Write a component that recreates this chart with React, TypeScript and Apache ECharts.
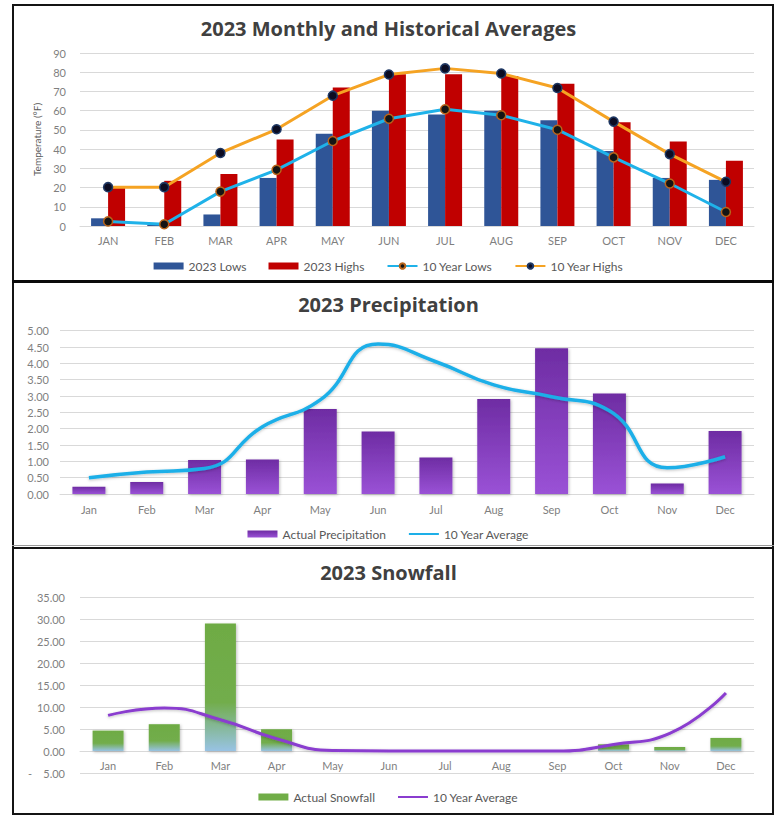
import React, { useEffect, useRef } from 'react';
import * as echarts from 'echarts';

const FONT = 'Lato, "Open Sans", "DejaVu Sans", sans-serif';
const TITLE_FONT = '"Open Sans", Lato, sans-serif';

// ---- Data ----
const tempMonths = ['JAN', 'FEB', 'MAR', 'APR', 'MAY', 'JUN', 'JUL', 'AUG', 'SEP', 'OCT', 'NOV', 'DEC'];
const lows2023 = [4, 0.6, 6, 25, 48, 60, 58, 60, 55, 39, 25, 24];
const highs2023 = [20, 23.5, 27, 45, 72, 79, 79, 78, 74, 54, 44, 34];
const lows10yr = [2.4, 0.9, 17.9, 29.2, 44.2, 55.8, 60.7, 57.6, 50.1, 35.7, 22.1, 7.3];
const highs10yr = [20.2, 20.2, 38, 50.3, 67.8, 78.8, 82, 79.3, 71.8, 54.3, 37.4, 23];

const months = ['Jan', 'Feb', 'Mar', 'Apr', 'May', 'Jun', 'Jul', 'Aug', 'Sep', 'Oct', 'Nov', 'Dec'];
const precipActual = [0.22, 0.37, 1.04, 1.06, 2.6, 1.91, 1.12, 2.91, 4.46, 3.08, 0.32, 1.93];
const precipAvg = [0.5, 0.67, 0.78, 2.06, 2.88, 4.59, 4.05, 3.34, 2.98, 2.55, 0.8, 1.14];

const snowActual = [4.64, 6.09, 29.0, 4.95, 0, 0, 0, 0, 0, 1.52, 0.91, 2.97];
const snowAvg = [8.1, 9.8, 7.1, 2.8, 0.1, 0, 0, 0, 0, 1.5, 4.0, 13.2];

const axisLabelStyle = { color: '#7f7f7f', fontSize: 11, fontFamily: FONT };
const legendText = { color: '#595959', fontSize: 12, fontFamily: FONT };
const titleStyle = { fontFamily: TITLE_FONT, fontSize: 20, fontWeight: 'bold' as const, color: '#404040' };
const gridLine = { lineStyle: { color: '#d9d9d9', width: 1 } };

function tempOption() {
  return {
    animation: false,
    title: { text: '2023 Monthly and Historical Averages', left: 'center', top: 18, padding: 0, textStyle: titleStyle },
    legend: {
      top: 255, left: 'center', itemWidth: 30, itemHeight: 7, itemGap: 22, textStyle: legendText,
      data: [{ name: '2023 Lows', icon: 'rect' }, { name: '2023 Highs', icon: 'rect' }, '10 Year Lows', '10 Year Highs'],
    },
    grid: { left: 80, top: 53, width: 674, height: 173 },
    xAxis: {
      type: 'category', data: tempMonths,
      axisLine: { lineStyle: { color: '#d9d9d9' } }, axisTick: { show: false },
      axisLabel: { ...axisLabelStyle, margin: 9 },
    },
    yAxis: {
      type: 'value', min: 0, max: 90, interval: 10,
      name: 'Temperature (°F)', nameLocation: 'middle', nameGap: 38,
      nameTextStyle: { fontSize: 10, color: '#595959', fontFamily: FONT },
      axisLabel: { ...axisLabelStyle, margin: 14 }, splitLine: gridLine,
    },
    series: [
      { name: '2023 Lows', type: 'bar', data: lows2023, barWidth: 17, barGap: '0%', itemStyle: { color: '#2F5597' } },
      { name: '2023 Highs', type: 'bar', data: highs2023, barWidth: 17, barGap: '0%', itemStyle: { color: '#C00000' } },
      {
        name: '10 Year Lows', type: 'line', data: lows10yr, symbol: 'circle', symbolSize: 9,
        lineStyle: { color: '#1FB2E9', width: 3 },
        itemStyle: { color: '#141414', borderColor: '#B8651B', borderWidth: 1.5 },
      },
      {
        name: '10 Year Highs', type: 'line', data: highs10yr, symbol: 'circle', symbolSize: 9,
        lineStyle: { color: '#F5A323', width: 3 },
        itemStyle: { color: '#0c0c22', borderColor: '#1F3864', borderWidth: 1.5 },
      },
    ],
  };
}

function precipOption() {
  return {
    animation: false,
    title: { text: '2023 Precipitation', left: 'center', top: 12, padding: 0, textStyle: titleStyle },
    legend: {
      top: 241, left: 'center', itemWidth: 30, itemHeight: 7, itemGap: 22, textStyle: legendText,
      data: [{ name: 'Actual Precipitation', icon: 'rect' }, { name: '10 Year Average', itemStyle: { opacity: 0 } }],
    },
    grid: { left: 60, top: 48.7, width: 694, height: 163.3 },
    xAxis: {
      type: 'category', data: months,
      axisLine: { lineStyle: { color: '#d9d9d9' } }, axisTick: { show: false },
      axisLabel: { ...axisLabelStyle, margin: 10 },
    },
    yAxis: {
      type: 'value', min: 0, max: 5, interval: 0.5,
      axisLabel: { ...axisLabelStyle, margin: 11, formatter: (v: number) => v.toFixed(2) },
      splitLine: gridLine,
    },
    series: [
      {
        name: 'Actual Precipitation', type: 'bar', data: precipActual, barWidth: 33,
        itemStyle: {
          color: new echarts.graphic.LinearGradient(0, 0, 0, 1, [
            { offset: 0, color: '#6E2CA3' },
            { offset: 1, color: '#9A52D6' },
          ]),
          shadowBlur: 3, shadowColor: 'rgba(0,0,0,0.25)', shadowOffsetX: 1, shadowOffsetY: 1,
        },
      },
      {
        name: '10 Year Average', type: 'line', data: precipAvg, smooth: 0.5, symbol: 'none',
        lineStyle: { color: '#1DAFE8', width: 3.5, shadowBlur: 3, shadowColor: 'rgba(0,0,0,0.25)', shadowOffsetY: 1 },
        itemStyle: { color: '#1DAFE8' },
      },
    ],
  };
}

function snowOption() {
  const barData = snowActual.map((v) => ({
    value: v,
    itemStyle: {
      color: new echarts.graphic.LinearGradient(0, 0, 0, 1, [
        { offset: 0, color: '#6EAB44' },
        { offset: 0.62, color: '#72AD4C' },
        { offset: 1, color: '#98C3E4' },
      ]),
    },
  }));
  return {
    animation: false,
    title: { text: '2023 Snowfall', left: 'center', top: 14, padding: 0, textStyle: titleStyle },
    legend: {
      top: 238, left: 'center', itemWidth: 30, itemHeight: 7, itemGap: 22, textStyle: legendText,
      data: [{ name: 'Actual Snowfall', icon: 'rect' }, { name: '10 Year Average', itemStyle: { opacity: 0 } }],
    },
    grid: { left: 80, top: 49, width: 674, height: 176 },
    xAxis: {
      type: 'category', data: months, offset: -22,
      axisLine: { onZero: false, lineStyle: { color: '#d9d9d9' } }, axisTick: { show: false },
      axisLabel: { ...axisLabelStyle, margin: 9 },
    },
    yAxis: {
      type: 'value', min: -5, max: 35, interval: 5,
      axisLabel: {
        ...axisLabelStyle, margin: 15,
        formatter: (v: number) => (v < 0 ? '-    ' + Math.abs(v).toFixed(2) : v.toFixed(2)),
      },
      splitLine: gridLine,
    },
    series: [
      {
        name: 'Actual Snowfall', type: 'bar', data: barData, barWidth: 31,
        itemStyle: {
          color: '#70AD47',
          shadowBlur: 3, shadowColor: 'rgba(0,0,0,0.25)', shadowOffsetX: 1, shadowOffsetY: 1,
        },
      },
      {
        name: '10 Year Average', type: 'line', data: snowAvg, smooth: 0.5, symbol: 'none',
        lineStyle: { color: '#8A3CCF', width: 3, shadowBlur: 3, shadowColor: 'rgba(0,0,0,0.25)', shadowOffsetY: 1 },
        itemStyle: { color: '#8A3CCF' },
      },
    ],
  };
}

function Chart({ option, top, height }: { option: any; top: number; height: number }) {
  const ref = useRef<HTMLDivElement>(null);
  useEffect(() => {
    if (!ref.current) return;
    const chart = echarts.init(ref.current, null, { renderer: 'svg' });
    chart.setOption(option);
    return () => chart.dispose();
  }, []);
  return <div ref={ref} style={{ position: 'absolute', left: 0, top, width: 777, height }} />;
}

export default function App() {
  return (
    <div style={{ position: 'absolute', left: 0, top: 0, width: 777, height: 817, background: '#fff', overflow: 'hidden' }}>
      <Chart option={tempOption()} top={0} height={282} />
      <Chart option={precipOption()} top={282} height={266} />
      <Chart option={snowOption()} top={548} height={269} />
      {/* frames */}
      <div style={{ position: 'absolute', left: 12, top: 4, width: 762, height: 811, boxSizing: 'border-box', border: '2.5px solid #141414', pointerEvents: 'none' }} />
      <div style={{ position: 'absolute', left: 12, top: 280, width: 762, height: 3, background: '#0a0a0a', pointerEvents: 'none' }} />
      <div style={{ position: 'absolute', left: 12, top: 547, width: 762, height: 2, background: '#141414', pointerEvents: 'none' }} />
      <div style={{ position: 'absolute', left: 12, top: 545, width: 762, height: 1, background: '#9a9a9a', pointerEvents: 'none' }} />
    </div>
  );
}
